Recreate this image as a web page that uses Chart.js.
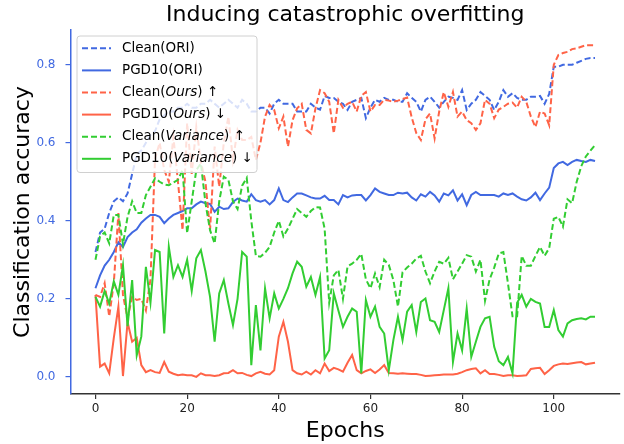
<!DOCTYPE html>
<html>
<head>
<meta charset="utf-8">
<script src="https://cdn.jsdelivr.net/npm/chart.js@4.4.1/dist/chart.umd.min.js"></script>
<style>
  html, body { margin: 0; padding: 0; background: #fff; }
</style>
</head>
<body>
<canvas id="chart" width="624" height="444"></canvas>
<script>
// epoch index 0..109 on the x axis
const epochs = Array.from({ length: 110 }, (_, i) => i);
const xTicks = [0, 20, 40, 60, 80, 100];
const yTicks = [0.0, 0.2, 0.4, 0.6, 0.8];

const cleanOri = [
    0.32, 0.37, 0.38, 0.42, 0.45, 0.46, 0.45, 0.47, 0.52, 0.57,
    0.58, 0.60, 0.62, 0.63, 0.66, 0.67, 0.68, 0.68, 0.69, 0.69,
    0.70, 0.69, 0.69, 0.70, 0.70, 0.71, 0.70, 0.69, 0.70, 0.71,
    0.70, 0.69, 0.71, 0.70, 0.68, 0.68, 0.69, 0.69, 0.675, 0.70,
    0.71, 0.70, 0.70, 0.70, 0.68, 0.68, 0.68, 0.70, 0.69, 0.685,
    0.72, 0.715, 0.715, 0.705, 0.70, 0.684, 0.705, 0.71, 0.715, 0.663,
    0.69, 0.71, 0.705, 0.715, 0.71, 0.71, 0.705, 0.705, 0.727, 0.715,
    0.705, 0.68, 0.71, 0.718, 0.705, 0.69, 0.705, 0.718, 0.715, 0.71,
    0.735, 0.684, 0.70, 0.71, 0.73, 0.72, 0.71, 0.684, 0.705, 0.735,
    0.718, 0.727, 0.715, 0.71, 0.71, 0.718, 0.718, 0.72, 0.70, 0.725,
    0.795, 0.795, 0.80, 0.80, 0.80, 0.805, 0.81, 0.815, 0.817, 0.817
];
const pgdOri = [
    0.227, 0.26, 0.285, 0.30, 0.32, 0.345, 0.333, 0.358, 0.37, 0.378,
    0.395, 0.406, 0.415, 0.415, 0.41, 0.394, 0.406, 0.415, 0.42, 0.425,
    0.432, 0.432, 0.442, 0.449, 0.445, 0.443, 0.423, 0.436, 0.43, 0.432,
    0.448, 0.457, 0.452, 0.449, 0.468, 0.453, 0.449, 0.453, 0.442, 0.453,
    0.483, 0.453, 0.448, 0.46, 0.47, 0.47, 0.465, 0.46, 0.457, 0.457,
    0.464, 0.453, 0.453, 0.442, 0.466, 0.46, 0.465, 0.466, 0.466, 0.452,
    0.466, 0.483, 0.474, 0.47, 0.466, 0.466, 0.472, 0.47, 0.472, 0.46,
    0.452, 0.468, 0.462, 0.474, 0.465, 0.449, 0.47, 0.465, 0.478, 0.452,
    0.468, 0.44, 0.466, 0.474, 0.466, 0.466, 0.466, 0.466, 0.462, 0.47,
    0.466, 0.47, 0.462, 0.455, 0.452, 0.46, 0.472, 0.453, 0.47, 0.485,
    0.535, 0.547, 0.551, 0.543, 0.551, 0.556, 0.553, 0.551, 0.556, 0.553
];
const cleanOurs = [
    0.21, 0.205, 0.24, 0.155, 0.24, 0.42, 0.21, 0.15, 0.205, 0.197,
    0.20, 0.17, 0.25, 0.56, 0.60, 0.53, 0.50, 0.615, 0.50, 0.376,
    0.65, 0.52, 0.64, 0.55, 0.50, 0.376, 0.59, 0.487, 0.60, 0.667,
    0.556, 0.633, 0.607, 0.607, 0.615, 0.556, 0.60, 0.667, 0.697, 0.684,
    0.637, 0.667, 0.59, 0.658, 0.688, 0.70, 0.633, 0.624, 0.688, 0.735,
    0.727, 0.705, 0.624, 0.71, 0.69, 0.70, 0.705, 0.68, 0.72, 0.73,
    0.68, 0.697, 0.697, 0.71, 0.708, 0.705, 0.708, 0.712, 0.716, 0.665,
    0.625, 0.607, 0.66, 0.675, 0.611, 0.68, 0.73, 0.692, 0.73, 0.667,
    0.68, 0.658, 0.65, 0.633, 0.65, 0.71, 0.70, 0.663, 0.685, 0.692,
    0.70, 0.703, 0.69, 0.718, 0.705, 0.667, 0.64, 0.68, 0.675, 0.645,
    0.80, 0.825, 0.83, 0.833, 0.84, 0.842, 0.846, 0.85, 0.85, 0.85
];
const pgdOurs = [
    0.21, 0.026, 0.034, 0.009, 0.10, 0.18, 0.002, 0.14, 0.09, 0.10,
    0.03, 0.012, 0.017, 0.012, 0.01, 0.038, 0.013, 0.008, 0.004, 0.006,
    0.004, 0.004, 0.0, 0.009, 0.004, 0.004, 0.002, 0.004, 0.009, 0.01,
    0.017, 0.009, 0.01, 0.005, 0.002, 0.009, 0.013, 0.008, 0.006, 0.017,
    0.103, 0.141, 0.09, 0.017, 0.009, 0.006, 0.013, 0.006, 0.017, 0.009,
    0.034, 0.015, 0.023, 0.019, 0.013, 0.036, 0.056, 0.017, 0.009, 0.015,
    0.019, 0.01, 0.019, 0.03, 0.01, 0.009, 0.008, 0.009, 0.008, 0.007,
    0.007, 0.005, 0.002, 0.003, 0.004, 0.005, 0.006, 0.006, 0.006, 0.008,
    0.012, 0.017, 0.02, 0.022, 0.009, 0.017, 0.007, 0.007, 0.005, 0.002,
    0.004, 0.004, 0.002, 0.003, 0.004, 0.02, 0.022, 0.023, 0.007, 0.017,
    0.028, 0.032, 0.034, 0.033, 0.035, 0.037, 0.038, 0.032, 0.034, 0.036
];
const cleanVar = [
    0.30, 0.36, 0.37, 0.342, 0.415, 0.415, 0.34, 0.41, 0.45, 0.42,
    0.42, 0.466, 0.487, 0.509, 0.50, 0.493, 0.491, 0.498, 0.505, 0.53,
    0.368, 0.45, 0.53, 0.547, 0.445, 0.376, 0.342, 0.45, 0.513, 0.505,
    0.45, 0.43, 0.49, 0.51, 0.40, 0.31, 0.308, 0.318, 0.333, 0.37,
    0.40, 0.36, 0.38, 0.405, 0.43, 0.42, 0.41, 0.425, 0.435, 0.434,
    0.38, 0.19, 0.26, 0.274, 0.20, 0.283, 0.29, 0.30, 0.315, 0.25,
    0.227, 0.265, 0.23, 0.30, 0.287, 0.248, 0.18, 0.268, 0.28, 0.29,
    0.303, 0.31, 0.27, 0.24, 0.27, 0.295, 0.29, 0.305, 0.25, 0.27,
    0.29, 0.312, 0.308, 0.27, 0.30, 0.195, 0.25, 0.28, 0.316, 0.32,
    0.24, 0.155, 0.155, 0.31, 0.285, 0.285, 0.31, 0.333, 0.31, 0.33,
    0.405, 0.41, 0.385, 0.455, 0.445, 0.50, 0.54, 0.565, 0.58, 0.594
];
const pgdVar = [
    0.205, 0.18, 0.22, 0.188, 0.245, 0.21, 0.286, 0.13, 0.248, 0.055,
    0.103, 0.282, 0.19, 0.325, 0.32, 0.111, 0.333, 0.256, 0.286, 0.256,
    0.30, 0.22, 0.304, 0.325, 0.27, 0.205, 0.09, 0.214, 0.248, 0.188,
    0.133, 0.20, 0.32, 0.308, 0.03, 0.184, 0.068, 0.227, 0.15, 0.214,
    0.175, 0.20, 0.227, 0.265, 0.295, 0.282, 0.231, 0.256, 0.21, 0.256,
    0.047, 0.068, 0.214, 0.17, 0.128, 0.154, 0.175, 0.167, 0.009, 0.197,
    0.154, 0.18, 0.128, 0.111, 0.017, 0.094, 0.154, 0.094, 0.167, 0.184,
    0.115, 0.192, 0.201, 0.145, 0.141, 0.115, 0.171, 0.227, 0.038, 0.111,
    0.068, 0.175, 0.051, 0.09, 0.128, 0.15, 0.154, 0.077, 0.04, 0.03,
    0.051, 0.009, 0.19, 0.21, 0.18, 0.20, 0.192, 0.188, 0.128, 0.128,
    0.171, 0.12, 0.103, 0.137, 0.145, 0.148, 0.15, 0.147, 0.154, 0.154
];

const BLUE = "#4169e1";
const RED = "#ff6347";
const GREEN = "#32cd32";
const FONT = "DejaVu Sans";

// legend text: [text, italic] pieces
const legendLabels = [
    [["Clean(ORI)", false]],
    [["PGD10(ORI)", false]],
    [["Clean(", false], ["Ours", true], [") \u2191", false]],
    [["PGD10(", false], ["Ours", true], [") \u2193", false]],
    [["Clean(", false], ["Variance", true], [") \u2191", false]],
    [["PGD10(", false], ["Variance", true], [") \u2193", false]]
];

function makeSet(label, values, color, dashed, order) {
    return {
        label: label,
        data: values,
        borderColor: color,
        backgroundColor: color,
        borderWidth: 2,
        borderDash: dashed ? [6, 3] : [],
        pointRadius: 0,
        tension: 0,
        fill: false,
        order: order
    };
}

const datasets = [
    makeSet("Clean(ORI)", cleanOri, BLUE, true, 5),
    makeSet("PGD10(ORI)", pgdOri, BLUE, false, 4),
    makeSet("Clean(Ours)", cleanOurs, RED, true, 3),
    makeSet("PGD10(Ours)", pgdOurs, RED, false, 2),
    makeSet("Clean(Variance)", cleanVar, GREEN, true, 1),
    makeSet("PGD10(Variance)", pgdVar, GREEN, false, 0)
];

const mplLegend = {
    id: "mplLegend",
    afterDraw(chart) {
        const ctx = chart.ctx;
        const area = chart.chartArea;
        const x0 = area.left + 6.5;
        const y0 = area.top + 6;
        const w = 180;
        const h = 136.5;

        ctx.save();
        ctx.beginPath();
        ctx.roundRect(x0, y0, w, h, 3);
        ctx.fillStyle = "rgba(255,255,255,0.8)";
        ctx.fill();
        ctx.strokeStyle = "#d0d0d0";
        ctx.lineWidth = 1;
        ctx.stroke();

        ctx.textBaseline = "middle";
        legendLabels.forEach((parts, i) => {
            const ds = datasets[i];
            const y = y0 + 12.3 + i * 22.1;

            ctx.beginPath();
            ctx.setLineDash(ds.borderDash);
            ctx.strokeStyle = ds.borderColor;
            ctx.lineWidth = 2;
            ctx.moveTo(x0 + 5, y);
            ctx.lineTo(x0 + 34, y);
            ctx.stroke();
            ctx.setLineDash([]);

            let tx = x0 + 45;
            ctx.fillStyle = "#000";
            parts.forEach(([text, italic]) => {
                ctx.font = (italic ? "italic " : "") + "13.5px '" + FONT + "'";
                ctx.fillText(text, tx, y);
                tx += ctx.measureText(text).width;
            });
        });
        ctx.restore();
    }
};

new Chart(document.getElementById("chart"), {
    type: "line",
    data: {
        labels: epochs,
        datasets: datasets
    },
    options: {
        responsive: false,
        animation: false,
        events: [],
        layout: {
            padding: { left: 10, right: 4, top: 0, bottom: 0 }
        },
        plugins: {
            legend: { display: false },
            tooltip: { enabled: false },
            title: {
                display: true,
                fullSize: false,
                text: "Inducing catastrophic overfitting",
                color: "#000",
                font: { family: FONT, size: 22, weight: "normal" },
                padding: { top: 2, bottom: 1.6 }
            }
        },
        scales: {
            x: {
                type: "linear",
                min: -5.45,
                max: 114.45,
                afterBuildTicks: scale => {
                    scale.ticks = xTicks.map(v => ({ value: v }));
                },
                afterFit: scale => {
                    scale.height = 50;
                },
                grid: {
                    drawOnChartArea: false,
                    drawTicks: true,
                    tickLength: 5,
                    color: "#333",
                    lineWidth: 1.2
                },
                border: { display: true, color: "#333", width: 1.5 },
                ticks: {
                    color: "#222",
                    font: { family: FONT, size: 12 },
                    padding: 3,
                    maxRotation: 0,
                    autoSkip: false
                },
                title: {
                    display: true,
                    text: "Epochs",
                    color: "#000",
                    font: { family: FONT, size: 22 },
                    padding: 0
                }
            },
            y: {
                min: -0.044,
                max: 0.889,
                afterBuildTicks: scale => {
                    scale.ticks = yTicks.map(v => ({ value: v }));
                },
                afterFit: scale => {
                    scale.width = 60.5;
                },
                grid: {
                    drawOnChartArea: false,
                    drawTicks: true,
                    tickLength: 5,
                    color: BLUE,
                    lineWidth: 1.2
                },
                border: { display: true, color: BLUE, width: 1.5 },
                ticks: {
                    color: BLUE,
                    font: { family: FONT, size: 12 },
                    padding: 10,
                    callback: v => v.toFixed(1)
                },
                title: {
                    display: true,
                    text: "Classification accuracy",
                    color: "#000",
                    font: { family: FONT, size: 22 },
                    padding: 0
                }
            }
        }
    },
    plugins: [mplLegend]
});
</script>
</body>
</html>
